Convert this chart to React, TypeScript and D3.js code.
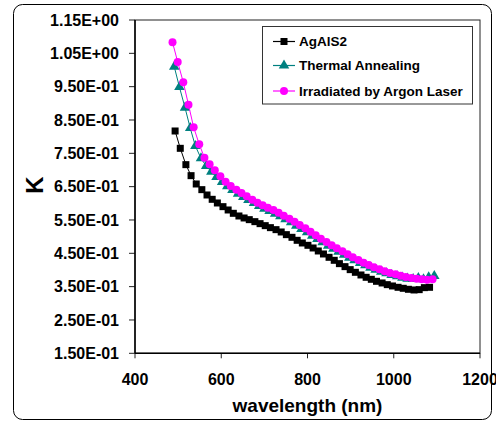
import React from "react";
import * as d3 from "d3";

const yTickValues = [0.15, 0.25, 0.35, 0.45, 0.55, 0.65, 0.75, 0.85, 0.95, 1.05, 1.15];
const yTickLabels = ["1.50E-01", "2.50E-01", "3.50E-01", "4.50E-01", "5.50E-01", "6.50E-01", "7.50E-01", "8.50E-01", "9.50E-01", "1.05E+00", "1.15E+00"];
const xTickValues = [400, 600, 800, 1000, 1200];

const blackWl = [493, 505, 518, 530, 542, 555, 567, 579, 591, 604, 616, 628, 641, 653, 665, 678, 690, 702, 714, 727, 739, 751, 764, 776, 788, 801, 813, 825, 837, 850, 862, 874, 887, 899, 911, 924, 936, 948, 960, 973, 985, 997, 1010, 1022, 1034, 1047, 1059, 1071, 1083];
const blackK = [0.817, 0.765, 0.716, 0.683, 0.658, 0.641, 0.625, 0.612, 0.601, 0.59, 0.58, 0.57, 0.562, 0.556, 0.551, 0.545, 0.539, 0.533, 0.527, 0.521, 0.514, 0.506, 0.498, 0.489, 0.481, 0.474, 0.466, 0.457, 0.448, 0.438, 0.429, 0.419, 0.41, 0.401, 0.393, 0.385, 0.378, 0.372, 0.366, 0.361, 0.356, 0.352, 0.348, 0.345, 0.342, 0.34, 0.341, 0.347, 0.348];

const tealWl = [491, 503, 516, 528, 540, 553, 565, 577, 589, 602, 614, 626, 639, 651, 663, 676, 688, 700, 712, 725, 737, 749, 762, 774, 786, 799, 811, 823, 835, 848, 860, 872, 885, 897, 909, 922, 934, 946, 958, 971, 983, 995, 1008, 1020, 1032, 1045, 1057, 1069, 1081, 1094];
const tealK = [1.01, 0.949, 0.887, 0.826, 0.772, 0.735, 0.712, 0.695, 0.679, 0.664, 0.651, 0.64, 0.629, 0.619, 0.61, 0.601, 0.592, 0.584, 0.577, 0.569, 0.561, 0.552, 0.543, 0.533, 0.523, 0.513, 0.503, 0.493, 0.483, 0.473, 0.464, 0.455, 0.446, 0.437, 0.429, 0.421, 0.414, 0.407, 0.401, 0.395, 0.39, 0.385, 0.381, 0.377, 0.374, 0.373, 0.376, 0.372, 0.378, 0.382];

const magentaWl = [487, 499, 512, 524, 536, 549, 561, 573, 585, 598, 610, 622, 635, 647, 659, 672, 684, 696, 708, 721, 733, 745, 758, 770, 782, 795, 807, 819, 831, 844, 856, 868, 881, 893, 905, 918, 930, 942, 954, 967, 979, 991, 1004, 1016, 1028, 1041, 1053, 1065, 1077, 1090];
const magentaK = [1.083, 1.024, 0.963, 0.896, 0.828, 0.777, 0.737, 0.717, 0.699, 0.681, 0.665, 0.652, 0.641, 0.631, 0.621, 0.611, 0.602, 0.594, 0.587, 0.58, 0.572, 0.563, 0.554, 0.545, 0.535, 0.525, 0.515, 0.504, 0.494, 0.484, 0.474, 0.465, 0.456, 0.447, 0.438, 0.43, 0.422, 0.415, 0.408, 0.402, 0.396, 0.391, 0.387, 0.383, 0.379, 0.376, 0.374, 0.372, 0.371, 0.372];

const seriesNames = ["AgAlS2", "Thermal Annealing", "Irradiated by Argon Laser"];
const seriesColors = ["#000000", "#008080", "#FF00FF"];
const seriesMarkers = ["square", "triangle", "circle"];

const FONT = "'Liberation Sans', Arial, sans-serif";

function Marker({ type, cx, cy, color }: { type: string; cx: number; cy: number; color: string }) {
  if (type === "square") return <rect x={cx - 3.5} y={cy - 3.5} width={7} height={7} fill={color} />;
  if (type === "triangle") {
    const p = d3.symbol(d3.symbolTriangle, 48)();
    return <path d={p || ""} transform={`translate(${cx},${cy})`} fill={color} />;
  }
  return <circle cx={cx} cy={cy} r={4} fill={color} />;
}

export default function App() {
  const left = 135, right = 480, top = 20, bottom = 353.3;
  const x = d3.scaleLinear().domain([400, 1200]).range([left, right]);
  const y = d3.scaleLinear().domain([0.15, 1.15]).range([bottom, top]);
  const line = d3.line<[number, number]>().x((d) => x(d[0])).y((d) => y(d[1]));

  const series = [
    { wl: blackWl, k: blackK },
    { wl: tealWl, k: tealK },
    { wl: magentaWl, k: magentaK },
  ];

  return (
    <svg width={496} height={421} style={{ position: "absolute", left: 0, top: 0, background: "#fff" }} fontFamily={FONT}>
      <rect x={13.5} y={4.5} width={478} height={415} rx={9} fill="#fff" stroke="#000" strokeWidth={1} />
      <rect x={left} y={top} width={right - left} height={bottom - top} fill="#fff" stroke="#222" strokeWidth={1} />

      {yTickValues.map((v, i) => (
        <g key={"y" + i}>
          <line x1={left - 6} x2={left} y1={y(v)} y2={y(v)} stroke="#222" />
          <text x={119} y={y(v)} dy="0.36em" textAnchor="end" fontSize={16} fontWeight="bold">{yTickLabels[i]}</text>
        </g>
      ))}
      {xTickValues.map((v, i) => (
        <g key={"x" + i}>
          <line x1={x(v)} x2={x(v)} y1={bottom} y2={bottom + 5} stroke="#222" />
          <text x={x(v)} y={385} textAnchor="middle" fontSize={16} fontWeight="bold">{v}</text>
        </g>
      ))}
      <line x1={left} x2={left} y1={top} y2={bottom} stroke="#000" strokeWidth={1.5} />
      <line x1={left} x2={right} y1={bottom} y2={bottom} stroke="#000" strokeWidth={1.5} />

      <text x={(left + right) / 2} y={412} textAnchor="middle" fontSize={19} fontWeight="bold">wavelength (nm)</text>
      <text transform={`translate(43,185) rotate(-90)`} textAnchor="middle" fontSize={24} fontWeight="bold">K</text>

      {series.map((s, si) => (
        <g key={"s" + si}>
          <path d={line(s.wl.map((w, i) => [w, s.k[i]] as [number, number])) || ""} fill="none" stroke={seriesColors[si]} strokeWidth={1} />
          {s.wl.map((w, i) => (
            <Marker key={i} type={seriesMarkers[si]} cx={x(w)} cy={y(s.k[i])} color={seriesColors[si]} />
          ))}
        </g>
      ))}

      <rect x={262.5} y={26.5} width={210} height={77.5} fill="#fff" stroke="#333" strokeWidth={1} />
      {seriesNames.map((n, i) => {
        const cy = [41.5, 65.5, 91][i];
        return (
          <g key={"l" + i}>
            <line x1={273} x2={295} y1={cy} y2={cy} stroke={seriesColors[i]} strokeWidth={1.2} />
            <Marker type={seriesMarkers[i]} cx={284} cy={cy} color={seriesColors[i]} />
            <text x={299} y={cy} dy="0.36em" fontSize={13.5} fontWeight="bold">{n}</text>
          </g>
        );
      })}
    </svg>
  );
}
